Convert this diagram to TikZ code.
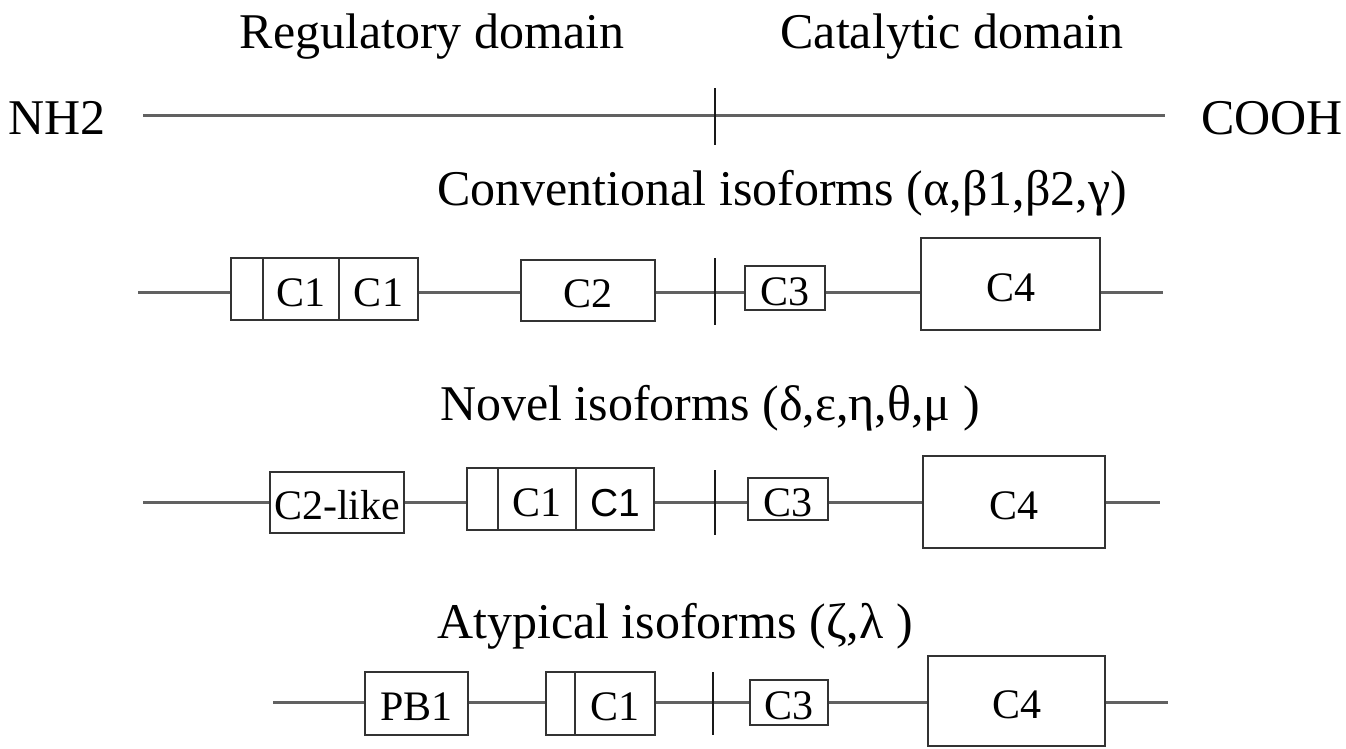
\documentclass[tikz,border=0pt]{standalone}
\usepackage{fontspec}
\setmainfont{Liberation Serif}
\newfontfamily\sansC{Liberation Sans}
\tikzset{
  ln/.style={line width=3pt, draw=black!62},
  tk/.style={line width=2pt, draw=black!90},
  bx/.style={draw=black!80, line width=2.5pt, inner sep=0pt, fill=white,
             text height=34pt, text depth=0pt,
             font=\fontsize{42}{50}\selectfont},
  ttl/.style={inner sep=0pt, anchor=base, font=\fontsize{50}{58}\selectfont},
}
\newcommand\pbox[6]{\node[bx, minimum width=#4pt, minimum height=#5pt] (#1) at (#2,#3) {#6};}
\begin{document}
\begin{tikzpicture}[x=1pt,y=-1pt]
\useasboundingbox (0,0) rectangle (1346,748);
% header
\node[ttl] (reg) at (432,48) {Regulatory domain};
\node[ttl] (cat) at (952,48) {Catalytic domain};
\node[ttl, anchor=base west] (nh) at (8,134) {NH2};
\node[ttl, anchor=base east] (cooh) at (1343,134) {COOH};
\coordinate (l0s) at (143,115);
\coordinate (l0e) at (1165,115);
\draw[ln] (l0s) -- (l0e);
\coordinate (t0a) at (715,88);
\coordinate (t0b) at (715,145);
\draw[tk] (t0a) -- (t0b);

% conventional
\node[ttl] (convt) at (782,205) {Conventional isoforms (α,β1,β2,γ)};
\coordinate (r1s) at (138,292);
\coordinate (r1e) at (1163,292);
\pbox{g1a}{247}{289}{32}{62}{}
\pbox{g1b}{301}{289}{76}{62}{C1}
\pbox{g1c}{378.5}{289}{79}{62}{C1}
\pbox{c2a}{588}{290.5}{134}{61}{C2}
\pbox{c3a}{785}{288}{80}{44}{C3}
\pbox{c4a}{1010.5}{284}{179}{92}{C4}
\draw[ln] (r1s) -- (r1s -| g1a.west);
\draw[ln] (g1c.east |- r1s) -- (c2a.west |- r1s);
\draw[ln] (c2a.east |- r1s) -- (c3a.west |- r1s);
\draw[ln] (c3a.east |- r1s) -- (c4a.west |- r1s);
\draw[ln] (c4a.east |- r1s) -- (r1e);
\coordinate (t1a) at (715,258);
\coordinate (t1b) at (715,325);
\draw[tk] (t1a) -- (t1b);

% novel
\node[ttl] (novt) at (710,420) {Novel isoforms (δ,ε,η,θ,μ )};
\coordinate (r2s) at (143,502);
\coordinate (r2e) at (1160,502);
\pbox{c2l}{337}{502.5}{134}{61}{C2-like}
\pbox{g2a}{482.5}{499}{31}{62}{}
\pbox{g2b}{537}{499}{78}{62}{C1}
\pbox{g2c}{615}{499}{78}{62}{\sansC\fontsize{39}{46}\selectfont C1}
\pbox{c3b}{788}{499}{80}{42}{C3}
\pbox{c4b}{1014}{502}{182}{92}{C4}
\draw[ln] (r2s) -- (r2s -| c2l.west);
\draw[ln] (c2l.east |- r2s) -- (g2a.west |- r2s);
\draw[ln] (g2c.east |- r2s) -- (c3b.west |- r2s);
\draw[ln] (c3b.east |- r2s) -- (c4b.west |- r2s);
\draw[ln] (c4b.east |- r2s) -- (r2e);
\coordinate (t2a) at (715,470);
\coordinate (t2b) at (715,535);
\draw[tk] (t2a) -- (t2b);

% atypical
\node[ttl] (atyt) at (675,638) {Atypical isoforms (ζ,λ )};
\coordinate (r3s) at (273,702);
\coordinate (r3e) at (1168,702);
\pbox{pb1}{416.5}{703.5}{103}{63}{PB1}
\pbox{g3a}{560.5}{703.5}{29}{63}{}
\pbox{g3b}{615}{703.5}{80}{63}{C1}
\pbox{c3c}{789}{702.5}{78}{45}{C3}
\pbox{c4c}{1016.5}{701}{177}{90}{C4}
\draw[ln] (r3s) -- (r3s -| pb1.west);
\draw[ln] (pb1.east |- r3s) -- (g3a.west |- r3s);
\draw[ln] (g3b.east |- r3s) -- (c3c.west |- r3s);
\draw[ln] (c3c.east |- r3s) -- (c4c.west |- r3s);
\draw[ln] (c4c.east |- r3s) -- (r3e);
\coordinate (t3a) at (713,672);
\coordinate (t3b) at (713,735);
\draw[tk] (t3a) -- (t3b);
\end{tikzpicture}
\end{document}
